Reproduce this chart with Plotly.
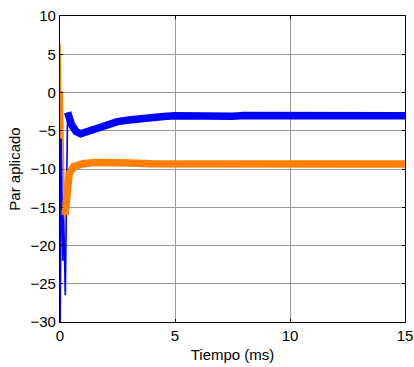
import plotly.graph_objects as go

# Applied torque traces (time in ms)
t_blue = [0.0, 0.01, 0.06, 0.12, 0.16, 0.2, 0.23, 0.33,
          0.5, 0.7, 0.9, 1.1, 1.5, 2.0, 2.5, 3.0, 3.5, 4.0, 4.5, 5.0,
          5.5, 6.0, 7.0, 7.5, 8.0, 8.5, 9.0, 10.0, 11.0, 12.0, 13.0, 14.0, 15.0]
par_blue = [2.0, -30.0, -6.0, -22.0, -16.0, -25.0, -26.5, -2.6,
            -4.2, -5.1, -5.4, -5.2, -4.8, -4.1, -3.8, -3.6, -3.4, -3.3, -3.15, -3.05,
            -3.1, -3.15, -3.15, -3.1, -3.0, -3.0, -3.1, -3.15, -3.1, -3.0, -3.05, -3.15, -3.05]
blue_split = 7  # index where the transient ends and the rippled steady band begins

t_orange = [0.0, 0.04, 0.09, 0.2, 0.22,
            0.28, 0.4, 0.6, 1.0, 1.5, 2.0, 3.0, 4.0, 5.0, 6.0, 7.0, 8.0,
            9.0, 10.0, 11.0, 12.0, 13.0, 14.0, 15.0]
par_orange = [6.3, -6.0, 0.2, -16.4, -16.0,
              -12.8, -10.6, -9.7, -9.3, -9.15, -9.1, -9.2, -9.3, -9.3, -9.45, -9.5, -9.35,
              -9.3, -9.45, -9.35, -9.3, -9.4, -9.45, -9.35]
orange_split = 4

x_ticks = [0, 5, 10, 15]
y_ticks = [10, 5, 0, -5, -10, -15, -20, -25, -30]

BLUE = "#0000ff"
ORANGE = "#ff8000"

fig = go.Figure()
for t, v, k, c in [(t_blue, par_blue, blue_split, BLUE),
                   (t_orange, par_orange, orange_split, ORANGE)]:
    fig.add_trace(go.Scatter(x=t[:k + 1], y=v[:k + 1], mode="lines",
                             line=dict(color=c, width=1.6), showlegend=False))
    fig.add_trace(go.Scatter(x=t[k:], y=v[k:], mode="lines",
                             line=dict(color=c, width=7.5), showlegend=False))

axis_common = dict(
    showline=True, linecolor="black", linewidth=1.3, mirror="ticks",
    ticks="inside", ticklen=3, tickcolor="black",
    showgrid=True, gridcolor="#9a9a9a", gridwidth=1,
    zeroline=False, tickfont=dict(size=15, color="black"),
    automargin=False,
)

fig.update_xaxes(range=[0, 15], tickvals=x_ticks,
                 title=dict(text="Tiempo (ms)", font=dict(size=15, color="black"), standoff=6),
                 **axis_common)
fig.update_yaxes(range=[-30, 10], tickvals=y_ticks,
                 title=dict(text="Par aplicado", font=dict(size=15, color="black"), standoff=6),
                 **axis_common)

fig.update_layout(
    width=414, height=367,
    margin=dict(l=60, r=9, t=16, b=45),
    paper_bgcolor="white", plot_bgcolor="white",
    font=dict(family="Liberation Sans, Arial, sans-serif"),
)

fig.write_html("out.html")
